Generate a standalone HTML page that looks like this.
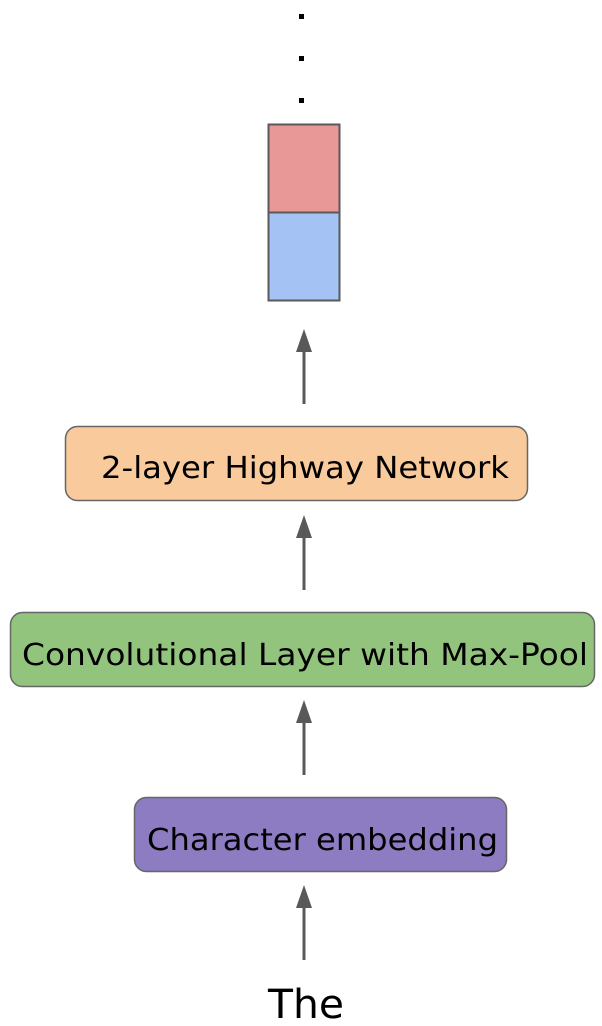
<!DOCTYPE html>
<html><head><meta charset="utf-8"><style>html,body{margin:0;padding:0;background:#fff}svg{display:block}</style></head>
<body>
<svg width="602" height="1026" viewBox="0 0 602 1026" xmlns="http://www.w3.org/2000/svg" font-family="'DejaVu Sans','Liberation Sans',sans-serif">
<defs><marker id="a" markerWidth="10" markerHeight="10" refX="5" refY="0" orient="auto" markerUnits="userSpaceOnUse"></marker></defs>
<rect x="299" y="14" width="5" height="5" fill="#000"/>
<rect x="299" y="56" width="5" height="5" fill="#000"/>
<rect x="299" y="98" width="5" height="5" fill="#000"/>
<rect x="268.5" y="124.5" width="71" height="88" fill="#e99898" stroke="#595959" stroke-width="2"/>
<rect x="268.5" y="212.5" width="71" height="88" fill="#a4c2f4" stroke="#595959" stroke-width="2"/>
<g fill="#595959" stroke="#595959">
<line x1="304" y1="348" x2="304" y2="404" stroke-width="3"/><polygon points="304,329 296,352 312,352" stroke="none"/>
<line x1="304" y1="534" x2="304" y2="590" stroke-width="3"/><polygon points="304,515 296,538 312,538" stroke="none"/>
<line x1="304" y1="719" x2="304" y2="775" stroke-width="3"/><polygon points="304,700 296,723 312,723" stroke="none"/>
<line x1="304" y1="904" x2="304" y2="960" stroke-width="3"/><polygon points="304,885 296,908 312,908" stroke="none"/>
</g>
<rect x="65.5" y="426.5" width="462" height="74" rx="12" fill="#f9cb9c" stroke="#666" stroke-width="1.5"/>
<text x="101" y="478" font-size="30" textLength="408" lengthAdjust="spacingAndGlyphs" fill="#000">2-layer Highway Network</text>
<rect x="10.5" y="612.5" width="584" height="74" rx="12" fill="#93c47d" stroke="#666" stroke-width="1.5"/>
<text x="22" y="665" font-size="30" textLength="566" lengthAdjust="spacingAndGlyphs" fill="#000">Convolutional Layer with Max-Pool</text>
<rect x="134.5" y="797.5" width="372" height="74" rx="12" fill="#8e7cc3" stroke="#666" stroke-width="1.5"/>
<text x="147" y="850" font-size="30" textLength="351" lengthAdjust="spacingAndGlyphs" fill="#000">Character embedding</text>
<text x="268" y="1018" font-size="40" textLength="76" lengthAdjust="spacingAndGlyphs" fill="#000">The</text>
</svg>
</body></html>
